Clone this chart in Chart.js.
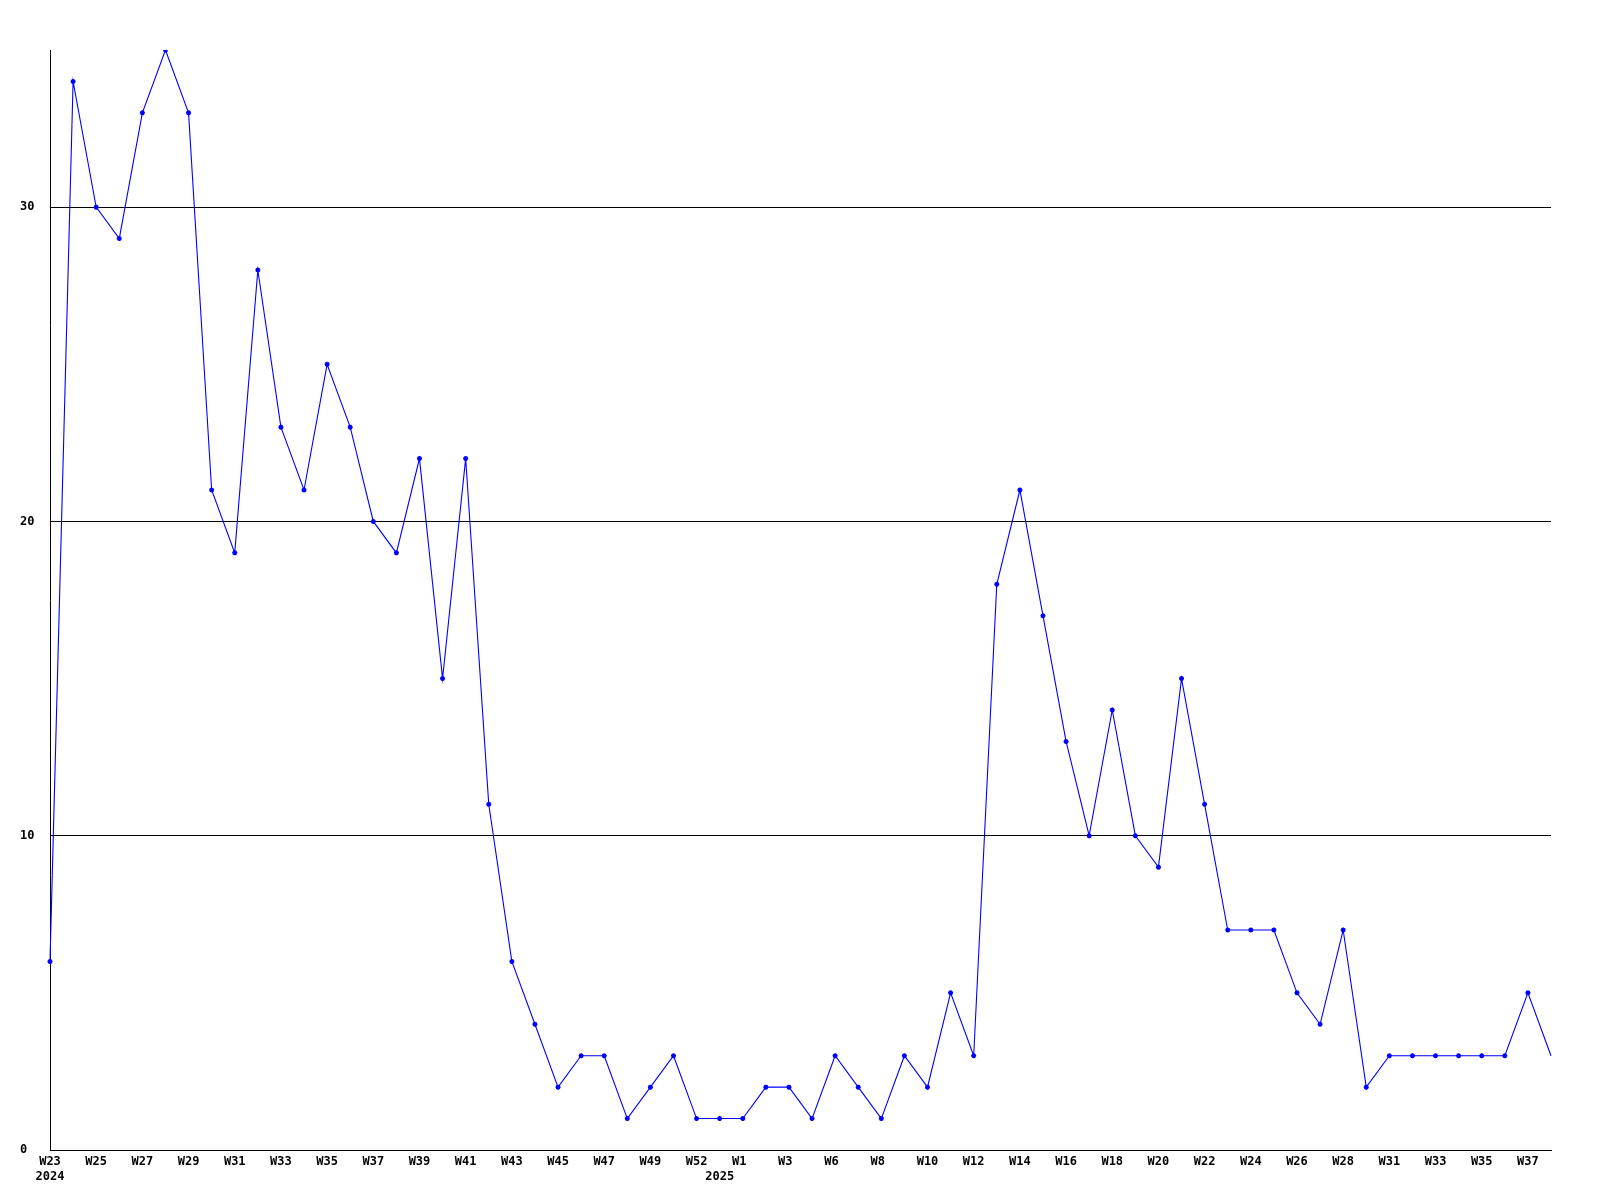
<!DOCTYPE html>
<html>
<head>
<meta charset="utf-8">
<title>weekly count</title>
<script src="https://cdn.jsdelivr.net/npm/chart.js@4/dist/chart.umd.min.js"></script>
<style>
  body { margin: 0; background: #fff; }
  #chart { display: block; }
</style>
</head>
<body>
<canvas id="chart" width="1600" height="1200"></canvas>
<script>
'use strict';

// weeks from W23 2024 up to W38 2025 (a few weeks missing in the source)
var weeks = [
  'W23', 'W24', 'W25', 'W26', 'W27', 'W28', 'W29', 'W30', 'W31', 'W32',
  'W33', 'W34', 'W35', 'W36', 'W37', 'W38', 'W39', 'W40', 'W41', 'W42',
  'W43', 'W44', 'W45', 'W46', 'W47', 'W48', 'W49', 'W50', 'W52', 'W53',
  'W1', 'W2', 'W3', 'W5', 'W6', 'W7', 'W8', 'W9', 'W10', 'W11',
  'W12', 'W13', 'W14', 'W15', 'W16', 'W17', 'W18', 'W19', 'W20', 'W21',
  'W22', 'W23', 'W24', 'W25', 'W26', 'W27', 'W28', 'W30', 'W31', 'W32',
  'W33', 'W34', 'W35', 'W36', 'W37', 'W38'
];

var counts = [
  6, 34, 30, 29, 33, 35, 33, 21, 19, 28,
  23, 21, 25, 23, 20, 19, 22, 15, 22, 11,
  6, 4, 2, 3, 3, 1, 2, 3, 1, 1,
  1, 2, 2, 1, 3, 2, 1, 3, 2, 5,
  3, 18, 21, 17, 13, 10, 14, 10, 9, 15,
  11, 7, 7, 7, 5, 4, 7, 2, 3, 3,
  3, 3, 3, 3, 5, 3
];

var years = ['2024', '2025'];
var yearStart = [0, 29];

var yTicks = [0, 10, 20, 30];

var tickFont = { family: "'DejaVu Sans Mono', monospace", size: 12, weight: 'bold' };

function xLabel(i) {
  let w = '';
  if (i % 2 === 0) {
    w = weeks[i];
    if (w.length < 3) w = w + ' ';
  }
  let k = yearStart.indexOf(i);
  if (k >= 0) return [w, years[k]];
  return w;
}

var ctx = document.getElementById('chart');

new Chart(ctx, {
  type: 'line',
  data: {
    labels: weeks,
    datasets: [{
      data: counts,
      borderColor: '#0000ff',
      backgroundColor: '#0000ff',
      borderWidth: 1.1,
      tension: 0,
      fill: false,
      pointStyle: 'star',
      // no marker on the last (current) week
      pointRadius: function (c) { return c.dataIndex === counts.length - 1 ? 0 : 2.5; },
      pointBorderWidth: 1.5,
      pointBorderColor: '#0000ff',
      pointBackgroundColor: '#0000ff'
    }]
  },
  options: {
    responsive: false,
    animation: false,
    layout: { padding: { left: 20, top: 50, right: 49, bottom: 0 } },
    plugins: {
      legend: { display: false },
      tooltip: { enabled: false }
    },
    scales: {
      x: {
        offset: false,
        grid: { display: false, drawTicks: false },
        border: { display: true, color: '#000', width: 1 },
        ticks: {
          autoSkip: false,
          maxRotation: 0,
          minRotation: 0,
          padding: 5,
          color: '#000',
          font: tickFont,
          callback: function (val, i) { return xLabel(i); }
        },
        afterFit: function (s) { s.height = 50; }
      },
      y: {
        min: 0,
        max: 35,
        grid: { color: '#000', lineWidth: 1, drawTicks: false },
        border: { display: true, color: '#000', width: 1 },
        afterBuildTicks: function (s) {
          s.ticks = yTicks.map(function (v) { return { value: v }; });
        },
        ticks: {
          crossAlign: 'far',
          color: '#000',
          font: tickFont
        },
        afterFit: function (s) { s.width = 30; }
      }
    }
  }
});
</script>
</body>
</html>
